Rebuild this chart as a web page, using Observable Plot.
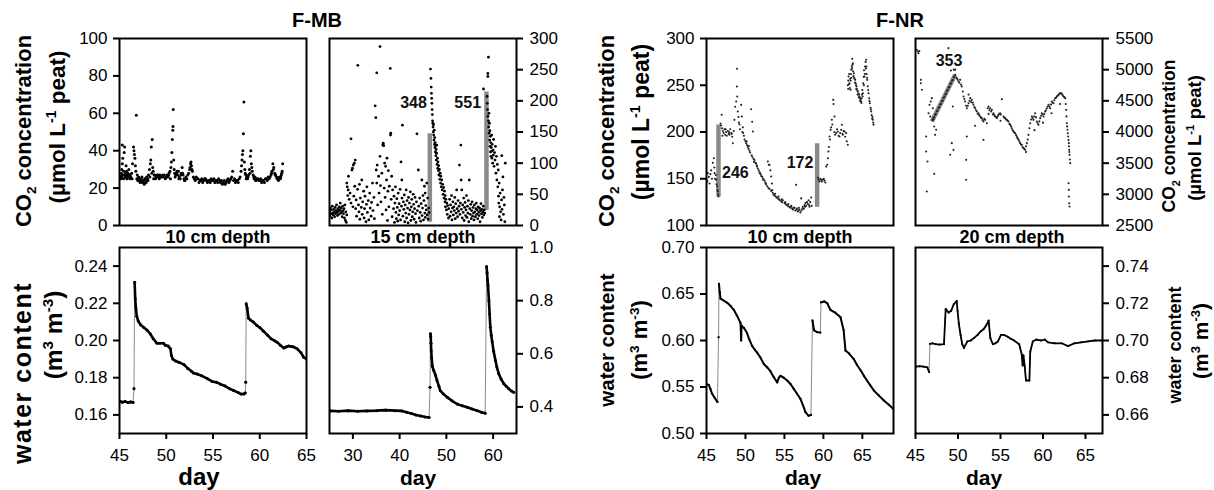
<!DOCTYPE html>
<html><head><meta charset="utf-8">
<script src="https://cdn.jsdelivr.net/npm/d3@7"></script>
<script src="https://cdn.jsdelivr.net/npm/@observablehq/plot@0.6"></script>
<style>
html,body{margin:0;padding:0;background:#fff;}
#chart{position:relative;width:1214px;height:490px;overflow:hidden;font-family:"Liberation Sans",Arial,Helvetica,sans-serif;color:#000;background:#fff;}
.t{position:absolute;white-space:nowrap;line-height:1;font-weight:bold;transform:translateX(-50%);}
.r{position:absolute;white-space:nowrap;line-height:1;font-weight:bold;transform:translate(-50%,-50%) rotate(-90deg);}
sub,sup{font-size:62%;line-height:0;}
</style></head><body><div id="chart"></div><script>
// ---------- DATA ----------
// F-MB, 10 cm, CO2 (day, µmol L-1 peat)
const fmb10Co2 = [[45.1,27],[45.15,26],[45.2,28],[45.25,30],[45.3,33],[45.3,43],[45.35,36],[45.4,27],[45.45,29],[45.5,39],[45.55,42],[45.6,26],[45.65,28],[45.7,32],[45.75,29],[45.8,27],[45.85,26],[45.9,28],[46.0,30],[46.05,27],[46.1,25],[46.2,26],[46.3,28],[46.4,33],[46.5,42],[46.55,40],[46.6,38],[46.65,36],[46.7,32],[46.8,59],[46.75,29],[46.9,27],[47.0,25],[47.1,24],[47.2,23],[47.3,25],[47.4,26],[47.5,24],[47.6,23],[47.7,25],[47.8,24],[47.9,26],[48.0,25],[48.1,27],[48.2,30],[48.3,33],[48.35,35],[48.4,42],[48.5,46],[48.55,31],[48.6,29],[48.7,27],[48.8,27],[48.9,26],[49.0,26],[49.1,27],[49.2,26],[49.3,27],[49.4,26],[49.5,26],[49.6,27],[49.7,26],[49.8,27],[49.9,25],[50.0,26],[50.1,27],[50.2,26],[50.3,28],[50.4,29],[50.5,31],[50.55,34],[50.6,39],[50.65,46],[50.7,51],[50.72,53],[50.75,62],[50.8,35],[50.85,30],[50.9,28],[51.0,27],[51.1,28],[51.2,27],[51.3,29],[51.4,26],[51.5,25],[51.6,28],[51.7,31],[51.8,27],[51.9,25],[52.0,24],[52.1,26],[52.3,27],[52.5,30],[52.6,33],[52.65,34],[52.7,32],[52.8,29],[52.9,26],[53.0,25],[53.2,26],[53.4,25],[53.6,24],[53.8,25],[54.0,24],[54.2,25],[54.4,23],[54.6,24],[54.8,25],[55.0,24],[55.2,23],[55.4,24],[55.6,25],[55.8,23],[56.0,22],[56.2,24],[56.4,23],[56.6,25],[56.8,24],[57.0,26],[57.1,29],[57.2,24],[57.4,23],[57.6,24],[57.8,25],[58.0,29],[58.05,32],[58.1,35],[58.15,38],[58.2,40],[58.25,49],[58.3,66],[58.35,34],[58.4,30],[58.5,27],[58.6,26],[58.7,25],[58.8,27],[58.9,30],[59.0,37],[59.05,40],[59.1,33],[59.2,29],[59.3,27],[59.4,25],[59.5,26],[59.6,24],[59.8,25],[60.0,24],[60.2,23],[60.4,24],[60.6,25],[60.8,24],[61.0,25],[61.2,27],[61.3,29],[61.4,33],[61.5,31],[61.6,28],[61.7,27],[61.8,26],[61.9,25],[62.0,24],[62.1,26],[62.2,25],[62.3,27],[62.4,29],[62.45,33],
[45.12,25],[45.22,26],[45.42,25],[45.62,27],[45.78,25],[45.95,26],[46.15,27],[46.35,25],[46.85,25],[46.95,24],[47.05,26],[47.25,24],[47.45,23],[47.65,22],[47.85,23],[48.05,24],[48.25,26],[48.45,28],[48.65,25],[48.85,25],[49.05,27],[49.25,25],[50.25,27],[50.45,25],[50.95,26],[51.15,29],[51.35,25],[51.55,27],[51.75,28],[51.95,24],[52.2,25],[52.4,28],[52.55,31],[52.75,30],[53.1,24],[53.3,25],[53.5,23],[53.7,24],[53.9,23],[54.1,25],[54.3,24],[54.5,24],[54.7,23],[54.9,24],[55.1,25],[55.3,24],[55.5,23],[55.7,24],[55.9,24],[56.1,23],[56.3,22],[56.5,24],[56.7,23],[56.9,25],[57.3,25],[57.5,24],[57.7,23],[57.9,26],[58.45,28],[58.55,25],[58.75,26],[58.95,28],[59.15,31],[59.35,26],[59.55,24],[59.7,25],[59.9,24],[60.1,25],[60.3,24],[60.5,23],[60.7,25],[60.9,26],[61.1,26],[61.25,28],[61.45,30],[61.65,27],[61.85,25],[62.05,25],[62.25,26],[62.35,28]];

// F-MB, 15 cm, CO2
const fmb15Co2 = [[25.0,22],[25.1,15],[25.2,28],[25.3,19],[25.4,25],[25.5,12],[25.6,31],[25.7,20],[25.8,17],[25.9,26],[26.0,22],[26.1,14],[26.2,29],[26.3,19],[26.4,24],[26.5,33],[26.6,21],[26.7,16],[26.8,27],[26.9,23],[27.0,18],[27.1,30],[27.2,25],[27.3,36],[27.4,20],[27.5,28],[27.6,22],[27.7,14],[27.8,31],[27.9,24],[28.0,19],[28.1,27],[28.2,12],[28.3,33],[28.4,8],[28.5,22],[28.6,5],[28.7,17],
[28.7,68],[28.8,62],[28.9,48],[29.0,57],[29.06,79],[29.2,42],[29.4,52],[29.6,139],[29.6,36],[29.8,89],[29.9,92],[30.0,30],[30.1,97],[30.2,47],[30.3,100],[30.4,63],[30.5,105],[30.6,27],[30.7,41],
[30.8,15],[31.0,58],[31.06,257],[31.2,33],[31.3,22],[31.4,66],[31.5,10],[31.6,44],[31.8,29],[31.9,73],[32.0,18],[32.1,38],[32.3,55],[32.4,12],[32.5,27],[32.6,47],[32.8,6],[32.9,34],[33.0,62],[33.1,21],[33.3,40],[33.4,9],[33.6,52],[33.7,28],[33.9,15],[34.0,37],[34.2,68],[34.3,24],[34.5,45],[34.6,11],
[34.77,192],[34.9,173],[35.1,245],[35.0,89],[35.1,68],[35.2,97],[35.3,33],[35.5,79],[35.6,52],[35.8,287],[35.8,111],[35.9,64],[36.0,38],[36.2,84],[36.3,18],[36.4,129],[36.5,132],[36.6,128],[36.7,60],[36.8,100],[36.9,45],[37.0,95],[37.1,25],[37.2,73],[37.3,108],[37.4,8],[37.5,55],[37.6,88],[37.7,30],[37.8,63],[38.0,252],[38.05,145],[38.1,148],[38.2,42],[38.3,79],[38.4,14],[38.5,57],
[38.7,27],[38.8,47],[38.9,5],[39.0,36],[39.1,62],[39.2,21],[39.3,11],[39.4,43],[39.5,29],[39.6,7],[39.7,52],[39.8,17],[39.9,35],[40.0,24],[40.1,58],[40.2,9],[40.3,102],[40.4,31],[40.47,73],[40.5,44],[40.6,161],[40.7,15],[40.8,38],[40.9,26],[41.0,49],[41.1,6],[41.2,33],[41.3,20],[41.4,57],[41.5,12],[41.6,40],[41.7,28],[41.8,4],[41.9,45],[42.0,18],[42.1,36],[42.2,25],[42.3,54],[42.4,8],[42.5,30],[42.6,42],[42.7,14],[42.8,22],[42.9,50],[43.0,34],[43.1,10],[43.2,27],[43.3,45],[43.4,19],[43.5,5],[43.6,38],[43.7,147],[43.8,24],[44.0,89],[44.1,31],[44.2,12],[44.3,44],[44.4,21],[44.5,7],[44.6,35],[44.75,73],[44.8,16],[44.9,28],[45.0,48],[45.1,9],[45.2,40],[45.3,63],[45.4,20],[45.46,52],[45.5,13],[45.6,32],[45.7,25],[45.8,68],[45.9,17],[46.0,44],[46.1,10],[46.2,28],[46.3,21],
[46.6,251],[46.7,236],[46.75,222],[46.8,212],[46.85,204],[46.9,196],[46.95,186],[47.0,178],[47.05,168],[47.1,164],[47.15,158],[47.2,150],[47.25,162],[47.3,145],[47.35,137],[47.4,153],[47.45,130],[47.5,141],[47.55,125],[47.6,133],[47.65,118],[47.7,128],[47.75,112],[47.8,122],[47.85,105],[47.9,116],[47.96,129],[48.0,98],[48.1,108],[48.15,92],[48.2,102],[48.3,88],[48.35,96],[48.4,81],[48.5,90],[48.6,74],[48.67,84],[48.75,68],[48.8,79],[48.9,62],[49.0,73],[49.1,57],[49.2,66],[49.3,50],[49.4,61],[49.5,44],[49.6,55],[49.7,38],[49.74,48],[49.8,30],[49.9,42],[50.0,25],[50.1,36],[50.2,18],[50.3,32],[50.45,12],[50.5,27],
[50.7,42],[50.8,15],[50.9,33],[51.0,22],[51.1,48],[51.2,9],[51.3,28],[51.4,38],[51.5,17],[51.6,30],[51.7,24],[51.8,45],[51.9,11],[52.0,35],[52.1,20],[52.2,57],[52.3,27],[52.4,14],[52.5,40],[52.6,23],[52.7,31],[52.8,97],[52.9,18],[53.0,36],[53.1,129],[53.16,73],[53.2,26],[53.3,57],[53.4,12],[53.5,33],[53.6,21],[53.7,44],[53.8,8],[53.9,29],[54.0,37],[54.1,16],[54.2,25],[54.3,48],[54.4,13],[54.5,31],[54.6,20],[54.7,40],[54.8,6],[54.9,73],[55.0,27],[55.1,18],[55.2,34],[55.3,11],[55.4,24],[55.5,38],[55.6,15],[55.7,29],[55.8,20],[55.9,9],[56.0,33],[56.1,22],[56.2,14],[56.3,27],[56.4,36],[56.5,18],[56.6,25],[56.7,11],[56.8,30],[56.9,21],[57.0,16],[57.1,28],[57.2,6],[57.3,24],[57.4,35],[57.5,19],[57.6,26],[57.7,13],[57.8,22],[57.9,31],[57.94,219],[58.0,17],[58.1,25],[58.2,20],
[58.7,207],[58.75,196],[58.8,186],[58.87,244],[58.87,239],[58.9,175],[59.0,270],[59.0,168],[59.05,158],[59.1,180],[59.15,148],[59.2,164],[59.25,137],[59.3,152],[59.35,127],[59.4,143],[59.45,118],[59.5,133],[59.55,111],[59.6,125],[59.65,119],[59.7,145],[59.75,108],[59.8,130],[59.9,100],[60.0,121],[60.05,113],[60.1,138],[60.2,95],[60.3,117],[60.4,105],[60.5,127],[60.6,84],[60.7,111],[60.8,73],[60.9,98],[61.0,62],[61.1,89],[61.15,47],[61.2,36],[61.3,68],[61.35,14],[61.4,30],[61.5,52],[61.6,22],[61.7,9],[61.8,41],[61.86,112],[61.9,26],[62.0,57],[62.1,78],[62.2,18],[62.3,45],[62.4,33],[62.5,6],[62.6,100]];
const fmb15Bars = [{x1:46.46,y1:6,x2:46.46,y2:148},{x1:58.58,y1:25,x2:58.58,y2:215}];
const fmb15Labels = [{day:42.97,v:196,text:"348"},{day:54.56,v:196,text:"551"}];

// F-NR, 10 cm, CO2
const fnr10Co2 = [[45.0,149],[45.1,147],[45.17,156],[45.3,152],[45.39,145],[45.5,155],[45.6,159],[45.7,150],[45.81,167],[45.94,172],[46.0,162],[46.03,156],[46.1,150],[46.2,154],[46.24,148.8],[46.3,144],[46.37,141.7],[46.4,138],[46.45,136.4],[46.5,133],[46.54,131],
[46.8,209],[46.88,207],[46.95,218.4],[47.0,204],[47.1,201],[47.2,199],[47.31,203],[47.4,197],[47.52,200],[47.6,196],[47.74,201],[47.85,198],[47.95,197],[48.05,203],[48.17,199],[48.3,195],[48.38,188],[48.5,201],[48.59,213],[48.68,227],[48.81,232.6],[48.9,248.7],[48.92,267.6],[48.95,238],[49.02,222],[49.1,216],[49.24,208],[49.3,203],[49.45,229],[49.54,216.6],[49.66,205],[49.7,199],[49.8,196],[49.88,192],[50.0,190],[50.09,188],[50.2,186],[50.31,184],[50.4,182],[50.52,180],[50.73,224.4],[50.86,211],[50.95,200.5],[50.6,178],[50.8,175],[50.9,173],[51.05,171],[51.16,170],[51.3,167],[51.38,166],[51.5,163],[51.59,161],[51.7,159],[51.8,157],[51.95,155],[52.02,153],[52.15,152],[52.3,150],[52.45,148],[52.55,146],[52.66,144],[52.87,168.4],[53.0,165],[53.09,164.9],[53.2,159],[53.3,152.4],[53.4,145],[52.8,142],[52.95,140],[53.1,139],[53.3,137],[53.5,135],[53.6,133],[53.73,132],[53.9,131],[54.0,130],[54.16,129],[54.3,128],[54.4,127],[54.58,126],[54.7,125],[54.8,127],[55.01,124],[55.15,123],[55.3,122],[55.44,121],[55.6,120],[55.75,119],[55.87,121],[56.0,118],[56.1,117],[56.3,119],[56.4,116],[56.51,143.5],[56.6,118],[56.72,115],[56.85,119],[56.94,117],[57.05,114],[57.15,129],[57.2,116],[57.37,120],[57.5,118],[57.58,122],[57.7,124],[57.79,121],[57.9,125],[58.01,123],[58.1,127],[58.22,120],[58.3,125],[58.44,130],[58.5,121],
[59.3,151],[59.4,148.8],[59.5,147],[59.6,150],[59.72,148.8],[59.8,147],[59.93,149],[60.05,150],[60.15,148],[60.25,146],[60.36,163],[60.49,164.9],[60.58,172],[60.66,179.1],[60.72,184],[60.79,195.2],[60.85,192],[60.92,202.3],[61.0,205],[61.09,213.1],[61.15,208],[61.26,234.4],[61.3,230],[61.43,216.6],[61.43,200],[61.5,197],[61.65,198.8],[61.75,203],[61.86,200.5],[61.95,196],[62.07,195.2],[62.15,199],[62.29,202.3],[62.37,207.7],[62.45,198],[62.5,197],[62.6,201],[62.72,200.5],[62.8,195],[62.93,198.8],[63.0,190],[63.14,186.3],
[63.14,250],[63.2,255],[63.23,259.4],[63.3,262],[63.36,252.2],[63.4,247],[63.49,245.1],[63.5,255],[63.57,266.5],[63.6,258],[63.65,270],[63.7,278.3],[63.74,272],[63.78,273.6],[63.82,265],[63.91,262.9],[63.95,258],[64.0,257],[64.08,255.8],[64.15,252],[64.2,250],[64.26,248.7],[64.3,246],[64.36,244],[64.43,243.3],[64.5,241],[64.58,240],[64.64,238],[64.7,236],[64.78,235],[64.85,232.6],[64.9,236],[64.95,240],[65.0,245],[65.07,241.5],[65.12,252],[65.18,259],[65.22,266],[65.28,259.4],[65.35,270],[65.42,275],[65.5,277.2],[65.52,270],[65.55,262],[65.62,255.8],[65.7,249],[65.8,241.5],[65.88,236],[65.97,230.8],[66.05,226],[66.14,221.9],[66.2,218],[66.28,214],[66.35,213.1],[66.4,210],[66.44,207.7],
[63.18,246],[63.28,251],[63.44,257],[63.55,262],[63.68,268],[63.86,260],[64.04,253],[64.22,246],[64.4,240],[64.55,237],[64.72,233],[64.88,231],[65.04,238],[65.2,250],[65.32,262],[65.46,268],[65.6,258],[65.75,245],[65.92,233],[66.1,224],[66.3,216],[47.05,196],[47.45,203],[47.9,200],[48.25,198],[49.15,210],[49.6,200],[50.15,190],[50.45,185],[51.1,168],[51.45,164],[51.85,156],[52.25,149],[52.6,145],[53.45,138],[53.8,134],[54.25,131],[54.65,128],[55.1,125],[55.5,123],[55.9,120],[56.2,119],[56.55,117],[56.8,116],[57.3,118],[57.65,120],[58.15,122]];
const fnr10Bars = [{x1:46.54,y1:131,x2:46.54,y2:208},{x1:59.2,y1:120,x2:59.2,y2:188}];
const fnr10Labels = [{day:48.7,v:156,text:"246"},{day:57.0,v:166.7,text:"172"}];

// F-NR, 20 cm, CO2
const fnr20Co2 = [[45.16,5318],[45.3,5291],[45.35,5264],[45.45,5300],[45.63,4837],[45.63,4783],[45.75,4677],[46.25,3928],[46.25,3687],[46.41,3527],[46.33,3045],[46.53,4302],[46.65,4436],[46.8,4489],[46.92,4543],[47.04,4382],[46.73,4248],[47.12,4200],[47.2,4088],[47.31,3954],[47.43,4035],[47.2,3329],
[47.0,4190],[47.1,4225],[47.2,4240],[47.3,4278],[47.4,4290],[47.5,4332],[47.6,4345],[47.7,4385],[47.8,4400],[47.9,4440],[48.0,4450],[48.1,4495],[48.2,4505],[48.3,4548],[48.4,4560],[48.5,4600],[48.6,4615],[48.7,4660],[48.8,4672],[48.9,4712],[49.0,4725],[49.1,4770],[49.2,4782],[49.3,4825],[49.4,4835],[49.5,4878],[49.6,4890],[49.67,4917],
[48.88,5345],[49.16,4986],[49.5,5000],[49.67,5000],[49.27,3821],[49.08,3634],[49.47,3714],[49.39,4409],
[49.86,4864],[50.06,4810],[50.25,4837],[50.45,4730],[50.57,4649],[50.65,4569],[50.84,4489],[51.04,4382],[51.24,4462],[51.43,4543],[51.63,4516],[51.82,4436],[52.02,4382],[52.22,4329],[52.41,4302],[52.61,4248],[52.8,4222],[53.0,4168],[53.2,4195],[53.39,4141],[53.59,4409],[53.78,4382],[53.98,4355],[54.18,4302],[54.37,4248],[54.57,4222],[54.76,4275],[54.96,4302],[55.16,4527],[55.35,4248],[55.55,4222],[55.75,4195],[55.94,4168],[56.14,4115],[56.33,4061],[56.53,4008],[56.73,3981],[56.92,3928],[57.12,3874],[57.31,3821],[57.51,3794],[57.7,3741],[57.9,3714],[58.1,3821],[58.29,3954],[58.49,4141],[58.69,4248],[58.88,4195],[59.08,4302],[59.27,4168],[59.47,4115],[59.67,4222],[59.86,4302],[60.06,4248],[60.25,4329],[60.45,4382],[60.65,4436],[60.84,4382],[61.04,4489],[61.24,4462],[61.43,4543],[61.63,4569],[61.82,4596],[62.02,4623],[62.22,4612],[62.41,4569],[62.61,4543],[62.73,4355],[62.8,4141],[62.88,4035],[62.96,3928],[63.04,3821],[63.08,3714],[63.12,3634],[63.2,3500],[63.0,3179],[63.04,3072],[63.04,2965],[63.08,2858],[63.12,2805],
[53.0,3874],[51.04,3928],[50.96,3553],[50.96,3233],[51.24,4600],[52.0,4100],[53.6,4290],[55.0,4180],[57.0,3900],[58.0,3680],[59.0,4030],[60.0,4150],[61.0,4300],[62.0,4450],
[49.95,4840],[50.15,4790],[50.35,4760],[50.75,4530],[50.95,4420],[51.15,4420],[51.35,4500],[51.55,4480],[51.75,4470],[51.92,4400],[52.12,4350],[52.32,4290],[52.5,4270],[52.7,4230],[52.9,4190],[53.1,4210],[53.5,4380],[53.7,4350],[53.9,4330],[54.1,4280],[54.28,4270],[54.48,4240],[54.67,4250],[54.86,4290],[55.05,4280],[55.45,4230],[55.65,4200],[55.85,4180],[56.05,4130],[56.24,4090],[56.43,4030],[56.63,3990],[56.83,3950],[57.02,3900],[57.22,3850],[57.41,3800],[57.6,3760],[57.8,3730],[58.0,3770],[58.2,3880],[58.4,4060],[58.6,4200],[58.78,4225],[58.98,4250],[59.18,4235],[59.37,4140],[59.57,4170],[59.77,4260],[59.96,4280],[60.15,4290],[60.35,4350],[60.55,4410],[60.75,4410],[60.94,4440],[61.14,4470],[61.33,4510],[61.53,4550],[61.72,4580],[61.92,4610],[62.12,4620],[62.32,4590],[62.5,4560],[62.68,4450],[62.76,4250],[62.84,4090],[62.92,3980],[63.0,3870],[63.06,3770],[63.1,3680],[63.16,3560]];
const fnr20Bars = [{x1:46.92,y1:4168,x2:49.67,y2:4917}];
const fnr20Labels = [{day:48.94,v:5147,text:"353"}];

// water content (m3 m-3), segments of continuous record
const fmb10Water = [
 [[45.0,0.1675],[45.3,0.1668],[45.6,0.1672],[45.9,0.1666],[46.2,0.1670],[46.45,0.1667]],
 [[46.55,0.1741]],
 [[46.62,0.2313],[46.68,0.2225],[46.75,0.2175],[46.85,0.2130],[47.0,0.2105],[47.25,0.2085],[47.6,0.2070],[47.96,0.2055],[48.3,0.2035],[48.6,0.2010],[49.0,0.1985],[49.3,0.1985],[49.7,0.1985],[49.9,0.1975],[50.2,0.1970],[50.45,0.1955],[50.55,0.1920],[50.7,0.1900],[51.0,0.1890],[51.4,0.1882],[51.9,0.1870],[52.3,0.1850],[52.7,0.1835],[52.9,0.1825],[53.3,0.1820],[53.8,0.1810],[54.4,0.1795],[54.9,0.1780],[55.4,0.1775],[55.8,0.1765],[56.3,0.1755],[56.8,0.1740],[57.2,0.1731],[57.7,0.1720],[58.0,0.1712],[58.3,0.1713],[58.45,0.1718]],
 [[58.5,0.1776]],
 [[58.55,0.2197],[58.65,0.2175],[58.8,0.2120],[59.0,0.2110],[59.3,0.2100],[59.7,0.2080],[60.0,0.2070],[60.4,0.2050],[60.8,0.2030],[61.2,0.2010],[61.6,0.1998],[61.87,0.1990],[62.2,0.1975],[62.57,0.1960],[62.8,0.1965],[63.1,0.1970],[63.4,0.1968],[63.64,0.1965],[64.0,0.1955],[64.4,0.1935],[64.7,0.1910],[65.0,0.1900]]
];
const fmb15Water = [
 [[25.2,0.385],[27,0.384],[29,0.386],[31,0.384],[33,0.385],[35,0.386],[37,0.388],[39,0.386],[40.5,0.385],[41.5,0.380],[42.5,0.375],[43.5,0.370],[44.5,0.366],[45.5,0.362],[46.3,0.360]],
 [[46.5,0.474]],
 [[46.6,0.675],[46.65,0.665],[46.7,0.640],[46.75,0.612],[46.85,0.585],[47.0,0.553],[47.3,0.537],[47.7,0.518],[48.0,0.499],[48.4,0.478],[48.7,0.461],[49.3,0.450],[50.2,0.436],[51.2,0.423],[52.3,0.411],[53.4,0.404],[54.45,0.399],[55.5,0.392],[56.6,0.386],[57.5,0.380],[58.3,0.376]],
 [[58.6,0.928],[58.7,0.905],[58.8,0.878],[58.9,0.860],[59.1,0.80],[59.25,0.75],[59.4,0.70],[59.6,0.670],[59.8,0.645],[60.1,0.610],[60.5,0.575],[60.8,0.550],[61.2,0.525],[61.7,0.505],[62.3,0.487],[62.8,0.478],[63.35,0.468],[63.9,0.460],[64.4,0.455]]
];
const fnr10Water = [
 [[45.0,0.5535],[45.3,0.552],[45.5,0.548],[45.7,0.543],[46.0,0.539],[46.4,0.534]],
 [[46.55,0.6035]],
 [[46.6,0.661],[46.7,0.652],[46.8,0.645],[47.2,0.643],[47.66,0.6405],[48.1,0.637],[48.5,0.633],[48.9,0.627],[49.36,0.619],[49.45,0.600],[49.5,0.616],[49.8,0.6136],[50.2,0.608],[50.5,0.601],[50.87,0.594],[51.2,0.590],[51.5,0.587],[51.9,0.582],[52.36,0.5747],[52.8,0.571],[53.2,0.567],[53.6,0.561],[54.07,0.555],[54.3,0.560],[54.5,0.562],[54.9,0.560],[55.36,0.557],[55.8,0.553],[56.2,0.548],[56.6,0.543],[57.07,0.537],[57.4,0.530],[57.7,0.5229],[58.1,0.519],[58.4,0.520]],
 [[58.6,0.6215],[58.8,0.611],[59.2,0.609],[59.6,0.6085]],
 [[59.7,0.641],[60.1,0.642],[60.5,0.640],[60.9,0.633],[61.5,0.630],[62.2,0.625],[62.6,0.611],[62.84,0.5892],[63.3,0.586],[63.9,0.580],[64.3,0.574],[64.8,0.5677],[65.2,0.562],[65.6,0.557],[66.0,0.552],[66.5,0.546],[67.1,0.541],[67.76,0.5355],[68.4,0.531],[68.96,0.5266]]
];
const fnr20Water = [
 [[45.1,0.686],[45.5,0.6862],[45.9,0.686],[46.4,0.6855],[46.6,0.683]],
 [[46.7,0.6982],[47.0,0.6985],[47.4,0.698],[47.8,0.6978],[48.35,0.698],[48.55,0.717],[48.9,0.715],[49.2,0.716],[49.5,0.7195],[49.85,0.7213],[49.95,0.716],[50.1,0.709],[50.3,0.703],[50.5,0.698],[50.7,0.696],[51.1,0.6995],[51.5,0.700],[51.9,0.7014],[52.3,0.703],[52.7,0.705],[53.0,0.706],[53.3,0.708],[53.6,0.7107],[53.8,0.7014],[54.1,0.698],[54.4,0.6985],[54.7,0.6995],[55.06,0.703],[55.4,0.703],[55.85,0.702],[56.2,0.701],[56.6,0.700],[57.2,0.698],[57.5,0.6925],[57.6,0.6866],[57.7,0.692],[57.85,0.686],[58.0,0.6785],[58.4,0.6785],[58.5,0.694],[58.8,0.6995],[59.2,0.7005],[59.8,0.700],[60.2,0.7005],[60.6,0.699],[61.4,0.6985],[62.2,0.6985],[62.95,0.697],[63.7,0.6985],[64.5,0.699],[65.3,0.6995],[66.1,0.700],[66.9,0.700]]
];

// axis ticks
const ticksCo2MB10 = [0,20,40,60,80,100];
const ticksCo2MB15 = [0,50,100,150,200,250,300];
const ticksCo2NR10 = [100,150,200,250,300];
const ticksCo2NR20 = [2500,3000,3500,4000,4500,5000,5500];
const ticksWMB10 = [0.16,0.18,0.20,0.22,0.24];
const ticksWMB15 = [0.4,0.6,0.8,1.0];
const ticksWNR10 = [0.50,0.55,0.60,0.65,0.70];
const ticksWNR20 = [0.66,0.68,0.70,0.72,0.74];
const dayTicks45 = [45,50,55,60,65];
const dayTicks25 = [30,40,50,60];

// ---------- DRAW ----------
const FONT = "'Liberation Sans', Arial, Helvetica, sans-serif";
const chart = document.getElementById("chart");

function panel({L, T, W, H, xDomain, yDomain, yTicks, yFmt, yAnchor, xTicks, marks}) {
  const mL = yAnchor === "left" ? 62 : 3, mR = yAnchor === "right" ? 62 : 3;
  const mT = 12, mB = xTicks ? 40 : 4;
  const el = Plot.plot({
    width: W + mL + mR, height: H + mT + mB,
    marginLeft: mL, marginRight: mR, marginTop: mT, marginBottom: mB,
    x: {domain: xDomain, axis: null},
    y: {domain: yDomain, axis: null},
    marks: [
      ...marks,
      Plot.frame({stroke: "black", strokeWidth: 2}),
      Plot.axisY({anchor: yAnchor, ticks: yTicks, tickFormat: yFmt, tickSize: 6,
        tickPadding: yAnchor === "left" ? 6 : 7, strokeWidth: 2, label: null, fontSize: 17}),
      xTicks ? Plot.axisX({anchor: "bottom", ticks: xTicks, tickFormat: d3.format("d"), tickSize: 6,
        tickPadding: 9, strokeWidth: 2, label: null, fontSize: 17}) : null
    ]
  });
  Object.assign(el.style, {position: "absolute", left: (L - mL) + "px", top: (T - mT) + "px",
    overflow: "visible", background: "transparent", fontFamily: FONT, fontSize: "17px",
    color: "#000", maxWidth: "none"});
  chart.appendChild(el);
}

function co2Marks(pts, r, fill, bars, labels) {
  const m = [];
  if (bars) m.push(Plot.link(bars, {x1: "x1", y1: "y1", x2: "x2", y2: "y2", stroke: "#8a8a8a", strokeWidth: 4.5}));
  m.push(Plot.dot(pts, {x: d => d[0], y: d => d[1], r, fill, stroke: "none", clip: true}));
  if (labels) m.push(Plot.text(labels, {x: "day", y: "v", text: "text", fontWeight: "bold", fontSize: 16, fill: "#111"}));
  return m;
}
function waterMarks(segs, lw, r) {
  const rows = segs.flatMap((s, i) => s.map(([d, v]) => ({d, v, s: i})));
  return [
    Plot.line(rows, {x: "d", y: "v", stroke: "#8a8a8a", strokeWidth: 1, clip: true}),
    Plot.line(rows, {x: "d", y: "v", z: "s", stroke: "black", strokeWidth: lw, clip: true}),
    Plot.dot(rows, {x: "d", y: "v", r, fill: "black", stroke: "none", clip: true})
  ];
}

const f0 = d3.format("d"), f1 = d3.format(".1f"), f2 = d3.format(".2f");
// top row
panel({L:119, T:38, W:187, H:187, xDomain:[45,65], yDomain:[0,100], yTicks:ticksCo2MB10, yFmt:f0, yAnchor:"left",
  marks: co2Marks(fmb10Co2, 1.5, "#000")});
panel({L:329, T:38, W:187, H:187, xDomain:[25,65], yDomain:[0,300], yTicks:ticksCo2MB15, yFmt:f0, yAnchor:"right",
  marks: co2Marks(fmb15Co2, 1.4, "#000", fmb15Bars, fmb15Labels)});
panel({L:706, T:38, W:187, H:187, xDomain:[45,69], yDomain:[100,300], yTicks:ticksCo2NR10, yFmt:f0, yAnchor:"left",
  marks: co2Marks(fnr10Co2, 1.05, "#222", fnr10Bars, fnr10Labels)});
panel({L:915, T:38, W:187, H:187, xDomain:[45,67], yDomain:[2500,5500], yTicks:ticksCo2NR20, yFmt:f0, yAnchor:"right",
  marks: co2Marks(fnr20Co2, 1.05, "#222", fnr20Bars, fnr20Labels)});
// bottom row
panel({L:119, T:247, W:187, H:186, xDomain:[45,65], yDomain:[0.15,0.25], yTicks:ticksWMB10, yFmt:f2, yAnchor:"left", xTicks:dayTicks45,
  marks: waterMarks(fmb10Water, 2.6, 1.5)});
panel({L:329, T:247, W:187, H:186, xDomain:[25,65], yDomain:[0.3,1.0], yTicks:ticksWMB15, yFmt:f1, yAnchor:"right", xTicks:dayTicks25,
  marks: waterMarks(fmb15Water, 2.6, 1.5)});
panel({L:706, T:247, W:187, H:186, xDomain:[45,69], yDomain:[0.5,0.7], yTicks:ticksWNR10, yFmt:f2, yAnchor:"left", xTicks:dayTicks45,
  marks: waterMarks(fnr10Water, 2.0, 1.1)});
panel({L:915, T:247, W:187, H:186, xDomain:[45,67], yDomain:[0.65,0.75], yTicks:ticksWNR20, yFmt:f2, yAnchor:"right", xTicks:dayTicks45,
  marks: waterMarks(fnr20Water, 1.8, 1.0)});

// ---------- TEXT ----------
function hText(html, cx, baseline, size) {
  const d = document.createElement("div");
  d.className = "t"; d.innerHTML = html;
  d.style.fontSize = size + "px"; d.style.left = cx + "px"; d.style.top = (baseline - 0.8465 * size) + "px";
  chart.appendChild(d);
}
function vText(html, cx, cy, size, ls) {
  const d = document.createElement("div");
  d.className = "r"; d.innerHTML = html;
  d.style.fontSize = size + "px"; d.style.left = cx + "px"; d.style.top = cy + "px";
  if (ls) d.style.letterSpacing = ls + "px";
  chart.appendChild(d);
}
const co2Lab = "CO<sub>2</sub> concentration", unitCo2 = "(µmol L<sup>-1</sup> peat)";
const wLab = "water content", unitW = "(m<sup>3</sup> m<sup>-3</sup>)";

hText("F-MB", 317, 27, 20);
hText("F-NR", 900, 27, 20);
hText("10 cm depth", 218, 243, 18);
hText("15 cm depth", 423, 243, 18);
hText("10 cm depth", 800, 243, 18);
hText("20 cm depth", 1012, 243, 18);
hText("day", 199, 485, 24);
hText("day", 418, 485, 21);
hText("day", 803, 485, 21);
hText("day", 984, 485, 21);

vText(co2Lab, 24, 131, 22);
vText(unitCo2, 58, 127, 22.5);
vText(wLab, 22, 373, 25, 1.5);
vText(unitW, 54, 335, 24.5);
vText(co2Lab, 607, 131, 22);
vText(unitCo2, 641, 122, 23);
vText(wLab, 607, 340, 20.5);
vText(unitW, 640, 340, 22);
vText(co2Lab, 1170, 136, 17.5);
vText(unitCo2, 1195, 138, 18.5);
vText(wLab, 1175, 345, 18);
vText(unitW, 1200, 341, 21);
</script></body></html>
